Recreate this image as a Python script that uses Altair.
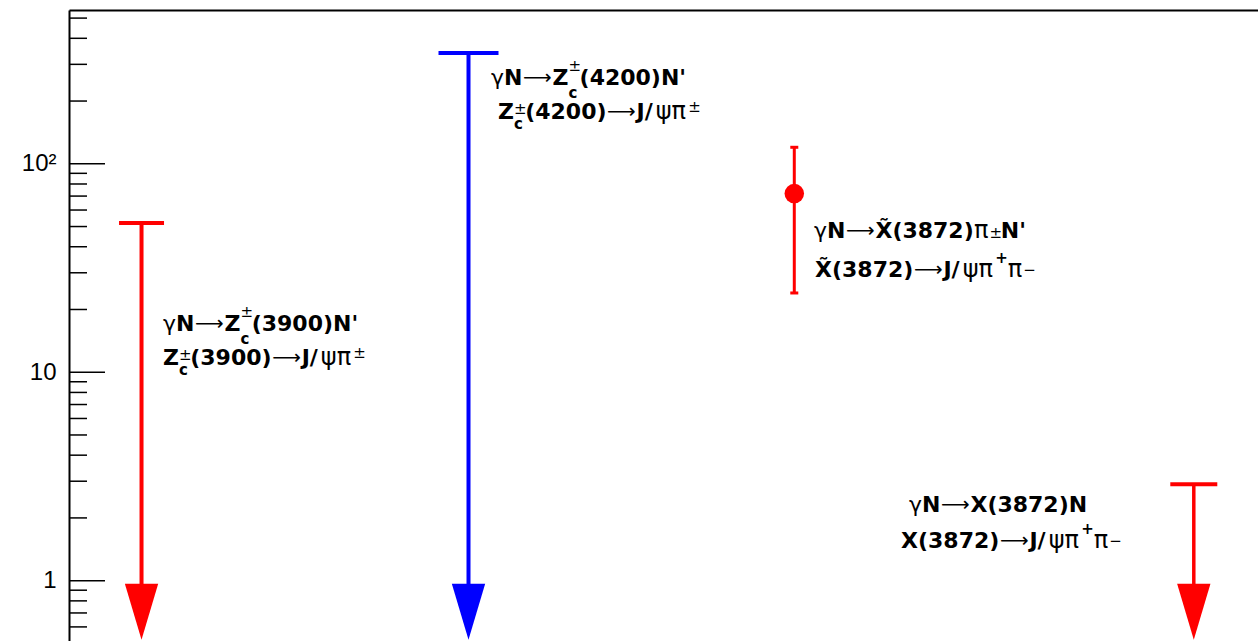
import altair as alt
import pandas as pd

# ---------------------------------------------------------------- data
# upper limits, drawn as downward arrows
limit_name = ["Zc(3900)", "Zc(4200)", "X(3872)"]
limit_x = [0.61, 3.36, 9.46]
limit_value = [52.0, 340.0, 2.9]
limit_color = ["#ff0000", "#0000ff", "#ff0000"]
arrow_end = 0.52

# measured value with symmetric error
point_name = ["X~(3872)"]
point_x = [6.10]
point_value = [72.0]
point_error = [48.0]

# y axis (log)
y_range = [0.5135, 546.8]
major_ticks = [1, 10, 100]
minor_ticks = [0.6, 0.7, 0.8, 0.9,
               2, 3, 4, 5, 6, 7, 8, 9,
               20, 30, 40, 50, 60, 70, 80, 90,
               200, 300, 400, 500]

# label anchors (start of first line, on its baseline)
label_x = [0.791, 3.549, 6.266, 7.065]
label_y = [15.8, 239.0, 44.2, 2.14]

# ---------------------------------------------------------------- styles
W, H = 1189, 631
cap_px = [45, 60, 47]
stem_px = [4, 4, 3.5]

TEXT_STYLES = {
    "b": dict(fontWeight="bold", fontSize=22),
    "g": dict(fontWeight="normal", fontSize=22),
    "gl": dict(fontWeight="normal", fontSize=24),
    "ar": dict(fontWeight="normal", fontSize=20),
    "s": dict(fontWeight="normal", fontSize=15),
    "sb": dict(fontWeight="bold", fontSize=15),
}
# approximate advance widths (em) of DejaVu Sans glyphs
ADV_BOLD = {"(": 0.458, ")": 0.458, "N": 0.837, "'": 0.330, "Z": 0.725,
            "X": 0.774, "J": 0.372, "/": 0.365, "c": 0.592, "+": 0.838,
            "\u0303": 0.0}
ADV_BOLD.update({d: 0.696 for d in "0123456789"})
ADV_REG = {"γ": 0.592, "ψ": 0.70, "π": 0.652, "±": 0.75, "−": 0.838,
           "→": 0.838, "⟶": 1.39}
# extra room kept around some pieces: (shift before drawing, extra advance)
EXTRA = {"ar": (0.5, 2.2), "J/": (0.0, 3.0)}


def width(text, style):
    table = ADV_BOLD if style in ("b", "sb") else ADV_REG
    return sum(table.get(ch, 0.6) for ch in text) * TEXT_STYLES[style]["fontSize"]


XT = "X\u0303"
labels = [
    [  # Zc(3900)
        (0, 0, [("γ", "g", 0, 1), ("N", "b", 0, 1), ("⟶", "ar", -1, 1),
                ("Z", "b", 0, 1), ("c", "sb", 13, 0), ("±", "s", -14, 1),
                ("(3900)N'", "b", 0, 1)]),
        (0, 34, [("Z", "b", 0, 1), ("c", "sb", 10, 0), ("±", "s", -5, 1),
                 ("(3900)", "b", 0, 1), ("⟶", "ar", -1, 1), ("J/", "b", 0, 1),
                 ("ψπ", "gl", 0, 1), ("±", "s", -7, 1)]),
    ],
    [  # Zc(4200)
        (0, 0, [("γ", "g", 0, 1), ("N", "b", 0, 1), ("⟶", "ar", -1, 1),
                ("Z", "b", 0, 1), ("c", "sb", 13, 0), ("±", "s", -14, 1),
                ("(4200)N'", "b", 0, 1)]),
        (7, 34, [("Z", "b", 0, 1), ("c", "sb", 10, 0), ("±", "s", -5, 1),
                 ("(4200)", "b", 0, 1), ("⟶", "ar", -1, 1), ("J/", "b", 0, 1),
                 ("ψπ", "gl", 0, 1), ("±", "s", -7, 1)]),
    ],
    [  # X~(3872)
        (0, 0, [("γ", "g", 0, 1), ("N", "b", 0, 1), ("⟶", "ar", -1, 1),
                (XT + "(3872)", "b", 0, 1), ("π", "gl", 0, 1), ("±", "s", 0, 1),
                ("N'", "b", 0, 1)]),
        (1, 39, [(XT + "(3872)", "b", 0, 1), ("⟶", "ar", -1, 1), ("J/", "b", 0, 1),
                 ("ψπ", "gl", 0, 1), ("+", "sb", -14, 1), ("π", "gl", 0, 1),
                 ("−", "s", -2, 1)]),
    ],
    [  # X(3872)
        (0, 0, [("γ", "g", 0, 1), ("N", "b", 0, 1), ("⟶", "ar", -1, 1),
                ("X(3872)N", "b", 0, 1)]),
        (-8, 36, [("X(3872)", "b", 0, 1), ("⟶", "ar", -1, 1), ("J/", "b", 0, 1),
                  ("ψπ", "gl", 0, 1), ("+", "sb", -14, 1), ("π", "gl", 0, 1),
                  ("−", "s", -2, 1)]),
    ],
]

# ---------------------------------------------------------------- encodings
xscale = alt.Scale(domain=[0, 10], nice=False, zero=False)
yscale = alt.Scale(type="log", domain=y_range, nice=False)
x_axis = alt.Axis(orient="top", labels=False, ticks=False, domain=True,
                  domainColor="black", domainWidth=2, grid=False, title=None)
y_axis = alt.Axis(values=major_ticks, ticks=False, tickSize=0, domain=True,
                  domainColor="black", domainWidth=2, grid=False, title=None,
                  labelFont="Liberation Sans", labelFontSize=24,
                  labelColor="black", labelPadding=13,
                  labelExpr="datum.value >= 100 ? '10²' : datum.value >= 10 ? '10' : '1'")


def X(field="x"):
    return alt.X(f"{field}:Q", scale=xscale, axis=x_axis)


def Y(field):
    return alt.Y(f"{field}:Q", scale=yscale, axis=y_axis)


limits = pd.DataFrame(dict(name=limit_name, x=limit_x, value=limit_value,
                           color=limit_color, cap=cap_px, stem=stem_px))
points = pd.DataFrame(dict(name=point_name, x=point_x, value=point_value,
                           err=point_error))
ticks_major = pd.DataFrame(dict(t=major_ticks))
ticks_minor = pd.DataFrame(dict(t=minor_ticks))

color = alt.Color("color:N", scale=None)

stems = alt.Chart(limits).transform_calculate(
    stem_end=f"{arrow_end} * 1.6"
).mark_rule().encode(
    x=X(), y=Y("value"), y2="stem_end:Q", color=color,
    strokeWidth=alt.StrokeWidth("stem:Q", scale=None),
)

caps = alt.Chart(limits).mark_tick(orient="horizontal", thickness=4, opacity=1).encode(
    x=X(), y=Y("value"), color=color, size=alt.Size("cap:Q", scale=None),
)

head_path = "M-1,-3.36L1,-3.36L0,0Z"
heads = alt.Chart(limits).transform_calculate(
    tip=f"{arrow_end}"
).mark_point(shape=head_path, filled=True, size=1111, opacity=1, strokeWidth=0).encode(
    x=X(), y=Y("tip"), color=color,
)

err = alt.Chart(points).transform_calculate(
    lo="datum.value - datum.err", hi="datum.value + datum.err"
)
err_bar = err.mark_rule(color="#ff0000", strokeWidth=3).encode(
    x=X(), y=Y("lo"), y2="hi:Q",
)
err_caps = err.transform_fold(["lo", "hi"], as_=["end", "v"]).mark_tick(
    orient="horizontal", size=8, thickness=3, color="#ff0000", opacity=1
).encode(x=X(), y=Y("v"))
dot = alt.Chart(points).mark_circle(size=380, color="#ff0000", opacity=1).encode(
    x=X(), y=Y("value"),
)

major = alt.Chart(ticks_major).mark_rule(color="black", strokeWidth=1.5).encode(
    y=Y("t"), x=alt.value(0), x2=alt.value(36),
)
minor = alt.Chart(ticks_minor).mark_rule(color="black", strokeWidth=1.5).encode(
    y=Y("t"), x=alt.value(0), x2=alt.value(18),
)

# each label piece is its own text mark, offset from the label anchor
text_layers = []
for lx, ly, lines in zip(label_x, label_y, labels):
    anchor = pd.DataFrame(dict(x=[lx], y=[ly]))
    for x0, base, tokens in lines:
        pos = x0
        for text, style, dy, adv in tokens:
            pre, post = EXTRA.get(style, EXTRA.get(text, (0.0, 0.0)))
            text_layers.append(
                alt.Chart(anchor).mark_text(
                    text=text, font="DejaVu Sans", align="left",
                    baseline="alphabetic", color="black",
                    dx=round(pos + pre, 1), dy=base + dy, **TEXT_STYLES[style]
                ).encode(x=X(), y=Y("y"))
            )
            if adv:
                pos += width(text, style) + post

chart = alt.layer(
    major, minor, stems, heads, caps, err_bar, err_caps, dot, *text_layers
).properties(
    width=W, height=H,
    autosize=alt.AutoSizeParams(type="none"),
    padding={"left": 69, "top": 10, "right": 0, "bottom": 0},
    background="white",
).configure_view(stroke=None)

chart.save("out.html", embed_options={"renderer": "svg", "actions": False})
